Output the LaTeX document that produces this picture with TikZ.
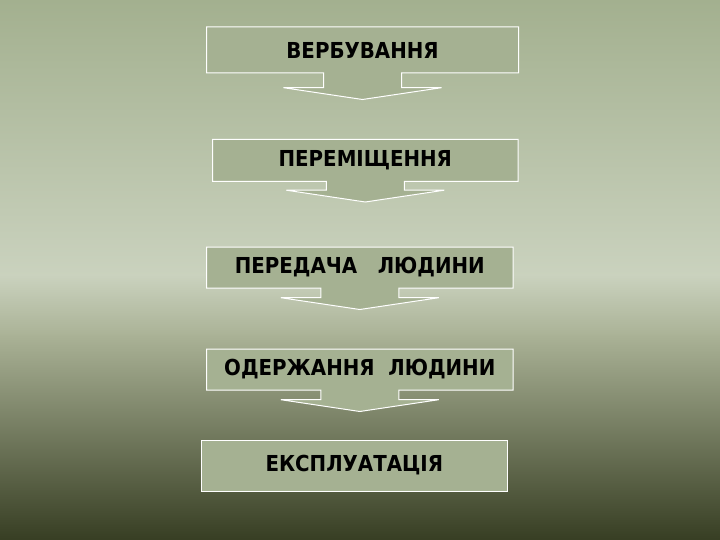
\documentclass[tikz,border=0pt]{standalone}
\usepackage{fontspec}
\setmainfont{DejaVu Sans}
\newfontfamily\stepfont{DejaVu Sans Condensed}
\usetikzlibrary{shapes.arrows}
\definecolor{bgtop}{RGB}{163,176,143}
\definecolor{bgmid}{RGB}{202,210,190}
\definecolor{bgmidb}{RGB}{170,178,150}
\definecolor{bgbot}{RGB}{55,62,35}
\definecolor{boxfill}{RGB}{165,177,146}
\begin{document}
\begin{tikzpicture}[x=1pt,y=-1pt,
  basebox/.style={draw=white, line width=1pt, fill=boxfill, text=black,
    font=\stepfont\bfseries\fontsize{22}{26}\selectfont, inner sep=0pt},
  arrowstep/.style={basebox, shape=arrow box, arrow box shaft width=78pt,
    arrow box head extend=40pt, arrow box tip angle=163, arrow box head indent=0pt},
  plainstep/.style={basebox, shape=rectangle}]
\useasboundingbox (0,0) rectangle (720,540);
\shade[top color=bgtop,bottom color=bgmid] (0,0) rectangle (720,276);
\shade[top color=bgmid,bottom color=bgmidb] (0,275) rectangle (720,336);
\shade[top color=bgmidb,bottom color=bgbot] (0,335) rectangle (720,540);

\node[arrowstep, minimum width=312pt, minimum height=46pt, arrow box arrows={south:26pt}] (b1) at (362.5,50) {ВЕРБУВАННЯ};
\node[arrowstep, minimum width=305.5pt, minimum height=42pt, arrow box arrows={south:20pt}] (b2) at (365.3,160.5) {ПЕРЕМІЩЕННЯ};
\node[arrowstep, minimum width=306.5pt, minimum height=41pt, arrow box arrows={south:21pt}] (b3) at (359.8,267.5) {ПЕРЕДАЧА\ \ \ ЛЮДИНИ};
\node[arrowstep, minimum width=306.5pt, minimum height=41pt, arrow box arrows={south:21pt}] (b4) at (359.8,369.5) {ОДЕРЖАННЯ\ \ ЛЮДИНИ};
\node[plainstep, minimum width=305.5pt, minimum height=51pt] (b5) at (354.3,465.5) {ЕКСПЛУАТАЦІЯ};
\end{tikzpicture}
\end{document}
